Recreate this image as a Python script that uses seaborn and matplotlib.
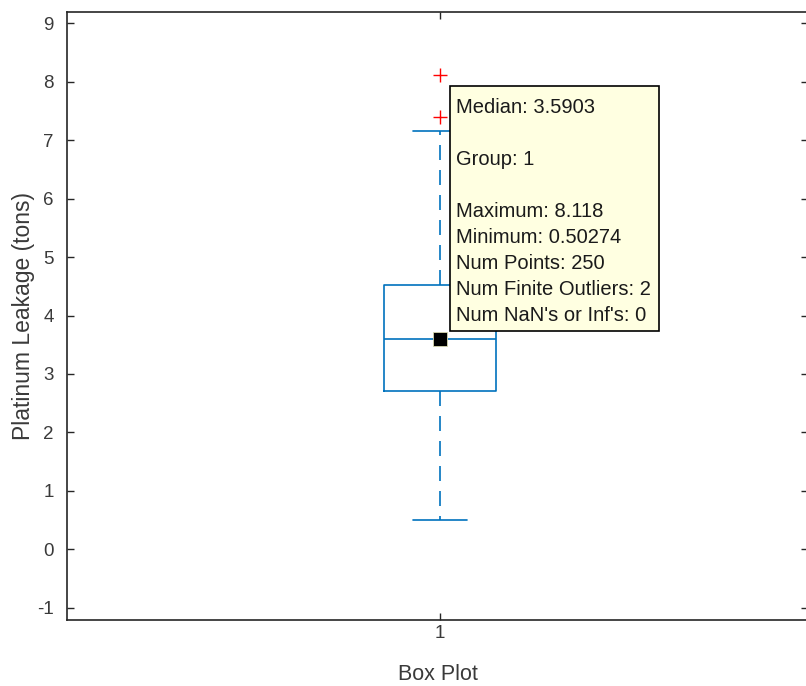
import numpy as np
import pandas as pd
import matplotlib
matplotlib.use("Agg")
import matplotlib.pyplot as plt
import seaborn as sns
from matplotlib.patches import Rectangle

# stand-in sample with the quartiles, whiskers and outliers
leakage = [0.50274, 1.5, 2.3, 2.71, 3.1, 3.4, 3.5903, 3.9, 4.3, 4.52, 7.15, 7.39, 8.118]
group = ["1"] * len(leakage)
n_points = 250
n_outliers = 2
n_nan = 0
ytick_vals = [-1, 0, 1, 2, 3, 4, 5, 6, 7, 8, 9]

df = pd.DataFrame({"Group": group, "Leakage": leakage})

blue = "#0072BD"
dark = "#3a3a3a"

sns.set_style("ticks")
plt.rcParams["font.family"] = ["Liberation Sans", "DejaVu Sans"]
plt.rcParams["axes.unicode_minus"] = False

fig = plt.figure(figsize=(8.06, 6.86), dpi=100)
ax = fig.add_axes([0.0831, 0.0955, 0.9194, 0.8866])

sns.boxplot(data=df, x="Group", y="Leakage", ax=ax, width=0.15, fill=False,
            color=blue, linewidth=1.2, whis=1.5, capwidths=0.073,
            whiskerprops=dict(linestyle=(0, (9, 6))),
            flierprops=dict(marker="+", markeredgecolor="red", markersize=10,
                            markeredgewidth=1.0),
            medianprops=dict(color=blue))

# datatip marker on the median
med = np.median(leakage)
ax.plot([0], [med], marker="s", markersize=10, color="black",
        markeredgecolor="#d8d8b0", markeredgewidth=0.6, zorder=5)

ax.set_xlim(-0.5034, 0.4966)
ax.set_ylim(-1.22, 9.19)
ax.set_yticks(ytick_vals)
ax.set_xlabel("Box Plot", fontsize=15.5, color=dark, labelpad=15.5)
ax.set_ylabel("Platinum Leakage (tons)", fontsize=16.5, color=dark, labelpad=1.8)
ax.tick_params(direction="in", top=True, right=True, length=5, width=1,
               labelsize=13.5, colors="#262626", labelcolor=dark)
ax.tick_params(axis="y", pad=9.5)
for s in ax.spines.values():
    s.set_visible(True)
    s.set_color("#262626")
    s.set_linewidth(1.2)

# datatip box
ax.add_patch(Rectangle((0.517, 0.476), 0.282, 0.403, transform=ax.transAxes,
                       facecolor="#FFFFE1", edgecolor="black", linewidth=1.2,
                       zorder=6, clip_on=False))
tip = (f"Median: {med:.5g}\n\nGroup: {group[0]}\n\n"
       f"Maximum: {max(leakage):.5g}\nMinimum: {min(leakage):.5g}\n"
       f"Num Points: {n_points}\nNum Finite Outliers: {n_outliers}\n"
       f"Num NaN's or Inf's: {n_nan}")
ax.text(0.525, 0.859, tip, transform=ax.transAxes, va="top", ha="left",
        fontsize=14.5, color="#1a1a1a", linespacing=1.47, zorder=7)

fig.savefig("out.png", dpi=100)
